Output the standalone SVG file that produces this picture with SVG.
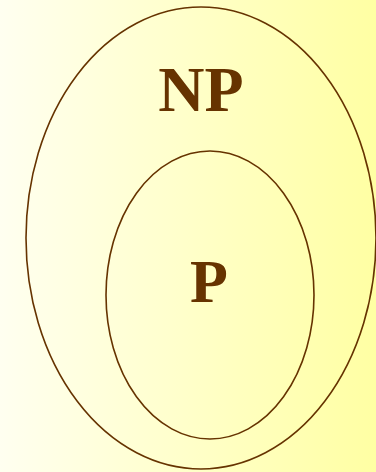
<svg xmlns="http://www.w3.org/2000/svg" width="376" height="472" viewBox="0 0 376 472">
<defs>
<linearGradient id="bg" x1="0" y1="0" x2="1" y2="0">
<stop offset="0" stop-color="#FFFFF0"/>
<stop offset="1" stop-color="#FFFFA3"/>
</linearGradient>
<style>
.set{fill:none;stroke:#663300;stroke-width:1.6}
.lbl{font-family:"Liberation Serif","Times New Roman",serif;font-weight:bold;fill:#663300;text-anchor:middle}
</style>
</defs>
<rect x="0" y="0" width="376" height="472" fill="url(#bg)"/>
<g id="NP">
<ellipse class="set" cx="201" cy="238" rx="175" ry="231"/>
<text class="lbl" x="201" y="111" font-size="64">NP</text>
</g>
<g id="P">
<ellipse class="set" cx="210" cy="295" rx="104" ry="144"/>
<text class="lbl" x="209" y="302" font-size="62">P</text>
</g>
<g id="connectors"></g>
</svg>
